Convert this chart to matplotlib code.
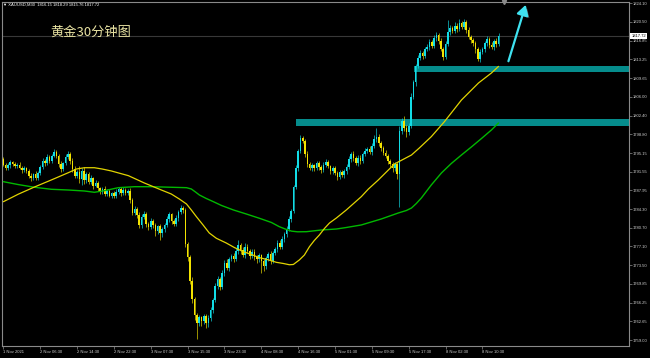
import matplotlib
matplotlib.use('Agg')
import matplotlib.pyplot as plt
import matplotlib.patheffects as pe
from matplotlib.patches import Rectangle
import matplotlib.transforms as mtransforms
import numpy as np

# ---------------- data ----------------
first_open = 1794.0
closes = [
    1792.9, 1792.2, 1792.8, 1793.4, 1793.0, 1792.6, 1792.9, 1792.3, 1791.8, 1792.2,
    1791.6, 1790.8, 1790.3, 1791.0, 1790.4, 1791.2, 1792.5, 1793.6, 1793.2, 1794.3,
    1793.7, 1794.6, 1795.3, 1794.5, 1793.0, 1792.0, 1793.2, 1794.4, 1795.0, 1793.6,
    1792.0, 1790.8, 1791.4, 1790.2, 1791.6, 1790.0, 1791.0, 1789.6, 1790.3, 1788.8,
    1789.4, 1788.3, 1787.6, 1788.2, 1787.3, 1787.8, 1786.9, 1787.4, 1786.8, 1787.6,
    1788.2, 1787.4, 1788.0, 1787.5, 1787.9, 1786.0, 1783.6, 1784.4, 1783.2, 1781.2,
    1782.8, 1783.4, 1781.5, 1780.8, 1782.0, 1781.2, 1780.0, 1781.0, 1779.6, 1780.4,
    1781.2, 1782.4, 1783.3, 1782.0, 1781.4, 1782.6, 1783.8, 1784.5, 1784.2, 1777.5,
    1775.0, 1770.5, 1767.0, 1763.8, 1762.3, 1763.4, 1762.6, 1763.6, 1762.2, 1763.2,
    1764.8, 1766.8, 1769.5, 1770.8, 1769.2, 1772.0, 1773.8, 1773.0, 1774.6, 1775.2,
    1774.6, 1776.2, 1777.4, 1776.4, 1775.5, 1777.0, 1776.2, 1775.3, 1776.0, 1775.0,
    1774.6, 1775.4, 1774.2, 1773.4, 1774.8, 1775.6, 1774.3, 1775.8, 1776.6, 1777.8,
    1777.0, 1778.6, 1779.5, 1780.4, 1782.4, 1784.0, 1788.5, 1792.2, 1795.6, 1798.0,
    1797.4, 1795.0, 1793.0, 1792.2, 1792.8, 1792.3, 1793.2, 1792.4, 1791.8, 1792.9,
    1793.4, 1792.6, 1791.6, 1792.2, 1791.3, 1790.6, 1791.4, 1790.9, 1791.7, 1792.5,
    1794.0, 1795.0, 1794.2, 1793.2, 1794.2, 1793.6, 1795.0, 1795.6, 1796.0, 1795.4,
    1796.6, 1797.8, 1798.2, 1797.0, 1796.2, 1795.2, 1794.6, 1793.6, 1793.0, 1792.2,
    1793.0, 1791.0, 1799.5, 1801.4, 1800.0, 1799.2, 1800.4, 1806.0, 1808.8, 1812.0,
    1813.6, 1814.5, 1814.0, 1815.2, 1815.6, 1816.6, 1815.9, 1817.4, 1818.0, 1816.8,
    1815.2, 1813.8, 1816.2, 1818.6, 1819.4, 1818.8, 1819.8, 1819.2, 1820.2, 1819.6,
    1820.4, 1819.0, 1817.6, 1817.0, 1816.4, 1815.2, 1813.4, 1814.6, 1815.2, 1816.4,
    1817.2, 1816.0, 1815.6, 1816.8, 1816.15, 1817.72,
]
up_wick = [
    0.4, 0.3, 0.5, 0.4, 0.3, 0.4, 0.3, 0.5, 0.3, 0.4,
    0.3, 0.4, 0.5, 0.3, 0.6, 0.4, 0.3, 0.5, 0.4, 0.6,
    0.5, 0.4, 0.7, 0.5, 0.4, 0.6, 0.3, 0.5, 0.6, 0.4,
    0.5, 0.6, 0.4, 1.2, 0.6, 0.8, 0.5, 0.4, 0.6, 0.3,
    0.5, 0.4, 0.3, 0.4, 0.5, 0.3, 0.4, 0.3, 0.4, 0.5,
    0.4, 0.3, 0.5, 0.4, 0.3, 0.4, 0.5, 0.6, 0.4, 0.5,
    0.6, 0.5, 0.4, 0.3, 0.6, 0.4, 0.5, 0.3, 0.4, 0.5,
    0.4, 0.5, 0.4, 0.3, 0.4, 0.5, 0.4, 0.6, 0.5, 0.3,
    0.4, 0.5, 0.6, 0.4, 0.5, 0.4, 0.3, 0.5, 0.4, 0.6,
    0.5, 0.4, 0.6, 0.5, 0.4, 0.5, 0.6, 0.8, 0.4, 0.5,
    0.6, 0.5, 0.9, 0.4, 0.6, 0.7, 0.5, 0.4, 0.6, 0.5,
    0.4, 0.5, 0.3, 0.4, 0.5, 0.4, 0.6, 0.5, 0.4, 0.5,
    0.6, 0.5, 0.4, 0.6, 0.5, 0.4, 0.5, 0.6, 0.4, 0.6,
    0.4, 0.5, 0.6, 0.4, 0.5, 0.3, 0.4, 0.5, 0.4, 0.6,
    0.5, 0.4, 0.3, 0.5, 0.4, 0.3, 0.5, 0.4, 0.3, 0.5,
    0.6, 0.4, 0.5, 0.4, 0.6, 0.5, 0.4, 0.5, 0.4, 0.6,
    0.5, 0.8, 1.8, 0.6, 0.5, 0.4, 0.5, 0.4, 0.3, 0.5,
    0.4, 0.5, 0.8, 0.6, 0.9, 0.5, 0.6, 0.7, 0.5, 0.4,
    0.5, 0.6, 0.4, 0.5, 0.6, 0.5, 0.4, 0.6, 0.5, 0.4,
    0.5, 0.4, 0.6, 2.3, 0.5, 0.4, 0.6, 0.5, 0.8, 0.4,
    0.6, 0.4, 0.5, 0.4, 0.3, 0.5, 0.4, 0.6, 0.5, 0.4,
    0.5, 0.4, 0.6, 0.4, 0.5, 0.57,
]
lo_wick = [
    0.3, 0.4, 0.3, 0.5, 0.4, 0.3, 0.4, 0.3, 0.5, 0.4,
    0.4, 0.5, 0.6, 0.3, 0.5, 0.4, 0.3, 0.4, 0.5, 0.3,
    0.4, 0.5, 0.3, 0.4, 0.5, 0.6, 0.4, 0.3, 0.4, 0.5,
    0.6, 0.5, 0.4, 0.8, 1.2, 0.9, 0.6, 0.5, 0.4, 0.6,
    0.3, 0.5, 0.4, 0.3, 0.5, 0.4, 0.3, 0.5, 0.4, 0.3,
    0.4, 0.5, 0.3, 0.4, 0.5, 0.6, 0.5, 0.4, 0.7, 0.6,
    0.5, 0.4, 0.6, 0.5, 0.4, 0.6, 0.8, 0.5, 1.2, 0.6,
    0.5, 0.4, 0.5, 0.6, 0.4, 0.3, 0.5, 0.4, 0.6, 0.5,
    0.7, 0.6, 0.8, 0.9, 3.1, 0.6, 0.8, 0.5, 0.9, 0.6,
    0.5, 0.6, 0.4, 0.7, 0.5, 0.4, 0.6, 0.5, 0.6, 0.4,
    0.5, 0.4, 0.6, 0.8, 0.5, 0.6, 0.4, 0.7, 0.5, 0.6,
    0.8, 0.5, 2.2, 1.0, 0.6, 0.5, 0.7, 0.5, 0.4, 0.6,
    0.5, 0.4, 0.6, 0.5, 0.4, 0.6, 0.5, 0.4, 0.6, 0.5,
    0.4, 0.6, 0.5, 0.4, 0.5, 0.6, 0.4, 0.5, 0.6, 0.4,
    0.5, 0.4, 0.6, 0.5, 0.4, 0.6, 0.5, 0.4, 0.5, 0.6,
    0.4, 0.5, 0.6, 0.4, 0.5, 0.6, 0.4, 0.5, 0.4, 0.5,
    0.6, 0.4, 0.5, 0.4, 0.6, 0.5, 0.4, 0.6, 0.5, 0.7,
    0.5, 0.8, 6.3, 0.6, 0.5, 0.9, 0.6, 0.5, 0.4, 0.6,
    0.5, 0.4, 0.6, 0.5, 0.4, 0.6, 0.5, 0.4, 0.6, 0.5,
    0.4, 0.6, 0.5, 0.4, 0.6, 0.5, 0.4, 0.6, 0.5, 0.4,
    0.5, 0.6, 0.4, 0.5, 0.6, 0.7, 0.5, 0.6, 0.4, 0.5,
    0.6, 0.5, 0.4, 0.6, 0.5, 0.39,
]

x_labels = ["1 Nov 2021", "2 Nov 06:30", "2 Nov 14:30", "2 Nov 22:30", "3 Nov 07:30",
            "3 Nov 15:30", "3 Nov 23:30", "4 Nov 08:30", "4 Nov 16:30", "5 Nov 01:30",
            "5 Nov 09:30", "5 Nov 17:30", "8 Nov 02:30", "8 Nov 10:30"]
x_label_bars = [0, 16, 32, 48, 64, 80, 96, 112, 128, 144, 160, 176, 192, 208]
y_ticks = [1824.10, 1820.50, 1816.85, 1813.25, 1809.65, 1806.00, 1802.40, 1798.80,
           1795.15, 1791.55, 1787.95, 1784.30, 1780.70, 1777.10, 1773.50, 1769.85,
           1766.25, 1762.65, 1759.00]

ma_fast_bars = [0, 6.5, 13.5, 20.8, 28.2, 31.7, 35.2, 39.5, 43.0, 46.9, 54.3, 61.2, 68.6,
                72.9, 76.4, 79.5, 81.6, 83.8, 86.7, 89.4, 92.5, 96.8, 100.3, 104.2, 107.7,
                111.2, 114.6, 118.5, 121.6, 124.2, 125.9, 128.5, 130.7, 132.9, 135.0,
                137.2, 139.4, 141.6, 144.6, 148.9, 155.4, 158.5, 162.8, 169.8, 177.2,
                180.6, 185.8, 191.5, 198.9, 206.3, 211.9, 215]
ma_fast_vals = [1785.74, 1787.20, 1788.58, 1789.94, 1791.35, 1792.06, 1792.31, 1792.31,
                1792.05, 1791.68, 1790.77, 1789.36, 1788.00, 1787.23, 1786.26, 1785.30,
                1784.14, 1782.85, 1781.24, 1779.69, 1778.66, 1777.75, 1776.88, 1776.07,
                1775.53, 1774.91, 1774.56, 1774.02, 1773.79, 1773.55, 1773.60, 1774.47,
                1775.43, 1777.04, 1778.24, 1779.30, 1780.56, 1781.62, 1782.59, 1784.14,
                1786.71, 1788.19, 1789.94, 1793.03, 1794.77, 1796.12, 1798.31, 1801.21,
                1805.40, 1808.69, 1810.62, 1811.90]
ma_slow_bars = [0, 6.5, 13.5, 20.8, 28.2, 35.2, 39.5, 43.9, 49.9, 56.9, 64.3, 72.9, 79.5,
                81.6, 83.4, 85.1, 88.1, 91.2, 94.7, 99.9, 105.5, 111.2, 116.4, 119.8,
                122.4, 125.1, 127.7, 131.6, 138.1, 144.6, 148.9, 155.4, 164.1, 171.5,
                175.0, 177.2, 179.3, 181.5, 185.8, 190.2, 194.5, 198.9, 203.2, 207.6,
                211.9, 215]
ma_slow_vals = [1789.61, 1789.05, 1788.53, 1788.14, 1788.00, 1787.81, 1787.56, 1787.87,
                1788.45, 1788.64, 1788.64, 1788.53, 1788.45, 1788.20, 1787.62, 1787.04,
                1786.36, 1785.74, 1785.01, 1784.14, 1783.36, 1782.53, 1781.72, 1780.91,
                1780.46, 1780.05, 1779.92, 1779.94, 1780.27, 1780.46, 1780.75, 1781.24,
                1782.40, 1783.56, 1784.04, 1784.52, 1785.39, 1786.46, 1788.97, 1791.29,
                1793.13, 1794.77, 1796.32, 1797.96, 1799.60, 1800.96]

zone_upper = (1810.82, 1811.98)
zone_upper_start = 178.5
zone_lower = (1800.38, 1801.73)
zone_lower_start = 127.2
arrow_tail = (219.3, 1812.9)
arrow_head = (226.8, 1823.8)
bid_price = 1817.72
header_text = "\u25bc XAUUSD,M30  1816.15 1818.29 1815.76 1817.72"
title_text = "黄金30分钟图"

# ---------------- drawing ----------------
W, H = 650, 358
fig = plt.figure(figsize=(W / 100, H / 100), dpi=100, facecolor='black')
ax = fig.add_axes([2 / W, 12 / H, 627 / W, 344 / H])
ax.set_facecolor('black')

n = len(closes)
opens = [first_open] + closes[:-1]
xs = np.arange(n)
o = np.array(opens)
c = np.array(closes)
hi = np.maximum(o, c) + np.array(up_wick)
lo = np.minimum(o, c) - np.array(lo_wick)

bull_col = '#12DCE6'
bear_col = '#F2E200'
cols = [bull_col if cc >= oo else bear_col for oo, cc in zip(o, c)]

x_max = -0.6 + 627 / 2.303
ax.set_xlim(-0.6, x_max)
ax.set_ylim(1757.84, 1824.35)

# bid line
ax.axhline(bid_price, color='#383838', lw=0.8, zorder=1)

# zones
ax.add_patch(Rectangle((zone_upper_start, zone_upper[0]), x_max - zone_upper_start,
                       zone_upper[1] - zone_upper[0], facecolor='#058C8C', edgecolor='none', zorder=2))
ax.add_patch(Rectangle((zone_lower_start, zone_lower[0]), x_max - zone_lower_start,
                       zone_lower[1] - zone_lower[0], facecolor='#058C8C', edgecolor='none', zorder=2))

# candles
ax.vlines(xs, lo, hi, colors=cols, lw=0.6, alpha=0.75, zorder=3)
heights = c - o
heights = np.where(np.abs(heights) < 0.12, 0.12, heights)
ax.bar(xs, heights, bottom=o, width=0.7, color=cols, edgecolor='none', zorder=4)

# moving averages
ax.plot(ma_slow_bars, ma_slow_vals, color='#00B800', lw=1.0, zorder=5,
        solid_joinstyle='round', solid_capstyle='round')
ax.plot(ma_fast_bars, ma_fast_vals, color='#E2D400', lw=0.9, zorder=5,
        solid_joinstyle='round', solid_capstyle='round')

# arrow
ann = ax.annotate('', xy=arrow_head, xytext=arrow_tail,
                  arrowprops=dict(arrowstyle='-|>,head_length=0.6,head_width=0.35',
                                  color='#3FE2F0', lw=1.6, mutation_scale=10,
                                  shrinkA=0, shrinkB=0), zorder=6)
ann.arrow_patch.set_path_effects([pe.withSimplePatchShadow(offset=(1.5, -1.2),
                                                           shadow_rgbFace='#555555', alpha=0.9)])

# axes styling
for s in ax.spines.values():
    s.set_color('#8a8a8a')
    s.set_linewidth(0.8)

ax.yaxis.tick_right()
ax.set_yticks(y_ticks)
ax.set_yticklabels(['%.2f' % v for v in y_ticks])
ax.set_xticks(x_label_bars)
ax.set_xticklabels(x_labels)
ax.tick_params(axis='both', colors='#8a8a8a', labelcolor='#d0d0d0', labelsize=3.0,
               length=2, width=0.5, pad=1)
for lab in ax.get_xticklabels():
    lab.set_horizontalalignment('left')
    lab.set_fontfamily('Liberation Sans')
for lab in ax.get_yticklabels():
    lab.set_fontfamily('Liberation Sans')

# bid label box
trans = mtransforms.blended_transform_factory(ax.transAxes, ax.transData)
ax.text(1.004, bid_price, '%.2f' % bid_price, transform=trans, fontsize=3.0,
        family='Liberation Sans', color='black', va='center', ha='left', clip_on=False,
        zorder=10, bbox=dict(boxstyle='square,pad=0.25', facecolor='white', edgecolor='none'))

# shift marker
ax.plot([217.5], [1824.35], marker='v', color='#8a8a8a', markersize=3, clip_on=False, zorder=10)

# header and title
fig.text(3 / W, 1 - 5 / H, header_text, fontsize=3.0, color='white', va='center', ha='left',
         family=['Liberation Sans', 'DejaVu Sans'])
fig.text(50 / W, 1 - 32.5 / H, title_text, fontsize=9.5, color='#E8E2A2', va='center', ha='left',
         family=['Noto Sans CJK SC', 'DejaVu Sans'])

fig.savefig('out.png', dpi=100, facecolor='black')
